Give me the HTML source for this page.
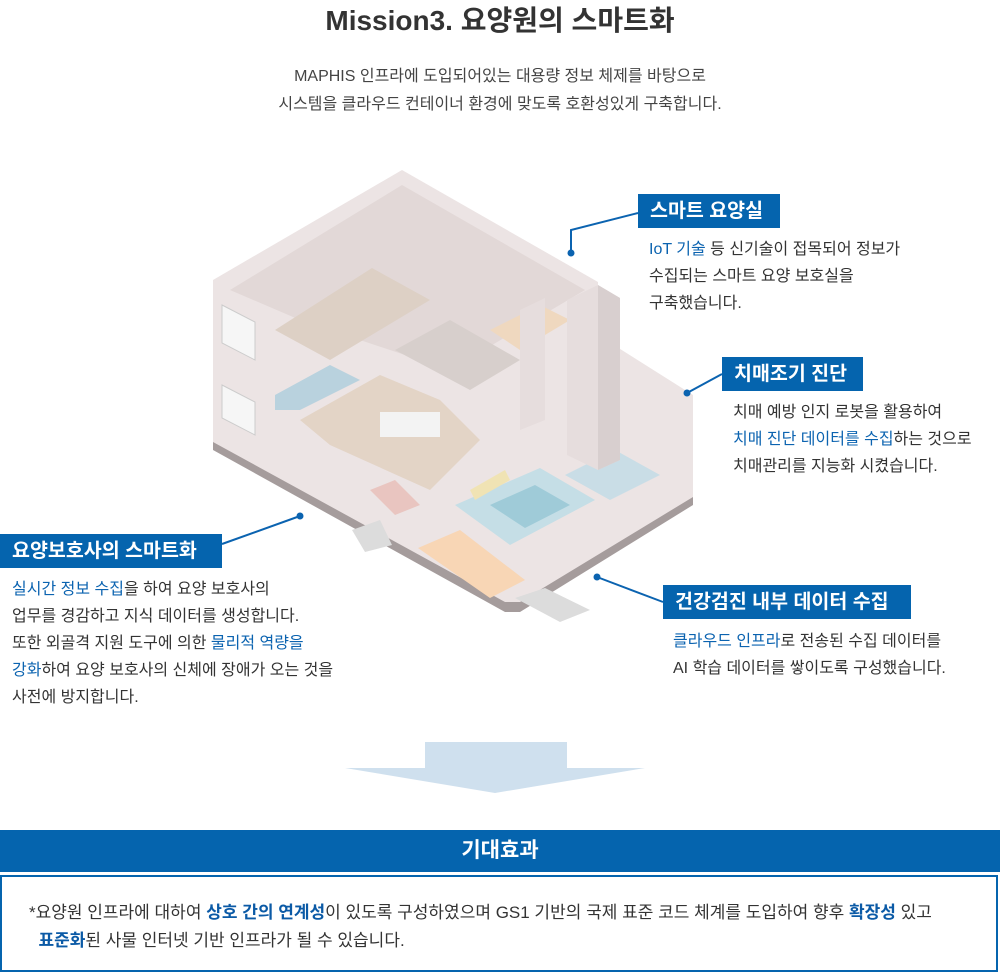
<!DOCTYPE html>
<html><head><meta charset="utf-8">
<style>
html,body{margin:0;padding:0;background:#fff}
body{width:1000px;height:976px;position:relative;overflow:hidden;font-family:"Liberation Sans","Noto Sans CJK KR",sans-serif;color:#333}
.a{position:absolute;white-space:nowrap}
.title{top:-1px;left:0;width:1000px;text-align:center;font-size:28px;font-weight:bold;color:#333}
.sub{left:0;width:1000px;text-align:center;font-size:16px;color:#444}
.lab{position:absolute;background:#0564ae;color:#fff;font-size:19.5px;font-weight:bold;height:34px;line-height:34px;padding:0 12px;box-sizing:border-box;white-space:nowrap}
.tx{position:absolute;font-size:16px;line-height:27px;color:#333;white-space:nowrap}
.b{color:#0b63b0}
.bb{color:#0b5aa6;font-weight:bold}
</style></head><body>
<div class="a title">Mission3. 요양원의 스마트화</div>
<div class="a sub" style="top:62px">MAPHIS 인프라에 도입되어있는 대용량 정보 체제를 바탕으로</div>
<div class="a sub" style="top:90px">시스템을 클라우드 컨테이너 환경에 맞도록 호환성있게 구축합니다.</div>

<svg style="position:absolute;left:0;top:0" width="1000" height="820">
<polygon points="213,440 213,450 505,612 520,612 693,505 693,495 520,600 505,600" fill="#a59c9c"/>
<polygon points="213,280 402,170 598,282 598,335 693,395 693,497 520,602 505,602 213,442" fill="#ece4e4"/>
<polygon points="230,290 402,185 585,290 450,370 300,320" fill="#e2d8d7"/>
<polygon points="275,330 372,268 430,300 330,360" fill="#ddd0c5"/>
<polygon points="275,395 330,365 360,380 300,410 275,410" fill="#b9d2de"/>
<polygon points="300,420 380,375 440,400 480,440 430,490 330,445" fill="#e3d4c6"/>
<polygon points="395,350 450,320 520,360 470,390" fill="#d7cfcc"/>
<polygon points="490,330 540,305 570,320 520,350" fill="#efd8bf"/>
<polygon points="455,505 540,468 595,500 510,545" fill="#c5dee6"/>
<polygon points="490,505 535,485 570,505 525,528" fill="#9fcbd8"/>
<polygon points="565,475 615,450 660,475 610,500" fill="#c9dde6"/>
<polygon points="418,548 460,530 525,580 490,598" fill="#f8d6b5"/>
<polygon points="515,598 545,588 590,610 560,622" fill="#dcdcdc"/>
<polygon points="352,530 380,520 392,545 365,552" fill="#dcdcdc"/>
<polygon points="567,300 598,285 620,298 620,460 598,470 567,455" fill="#e6dddd"/>
<polygon points="598,285 620,298 620,460 598,470" fill="#d8cfcf"/>
<polygon points="520,310 545,298 545,420 520,430" fill="#e6dddd"/>
<polygon points="222,305 255,322 255,360 222,343" fill="#f6f6f6" stroke="#ccc"/>
<polygon points="222,385 255,402 255,435 222,418" fill="#f6f6f6" stroke="#ccc"/>
<rect x="380" y="412" width="60" height="25" fill="#f3f3f3"/>
<polygon points="470,490 505,470 510,480 475,500" fill="#f0e3b4"/>
<polygon points="370,490 395,480 420,505 395,515" fill="#e9c5c0"/>
<g stroke="#0b63b0" stroke-width="2" fill="none">
<polyline points="571,253 571,230 638,213"/>
<line x1="687" y1="393" x2="722" y2="374"/>
<line x1="300" y1="516" x2="222" y2="544"/>
<line x1="597" y1="577" x2="663" y2="602"/>
</g>
<g fill="#0b63b0">
<circle cx="571" cy="253" r="3.5"/><circle cx="687" cy="393" r="3.5"/>
<circle cx="300" cy="516" r="3.5"/><circle cx="597" cy="577" r="3.5"/>
</g>
<polygon points="425,742 567,742 567,768 645,768 495,793 345,768 425,768" fill="#cfe0ee"/>
</svg>

<div class="lab" style="left:638px;top:194px;width:142px">스마트 요양실</div>
<div class="tx" style="left:649px;top:236px"><span class="b">IoT 기술</span> 등 신기술이 접목되어 정보가<br>수집되는 스마트 요양 보호실을<br>구축했습니다.</div>

<div class="lab" style="left:722px;top:357px;width:141px">치매조기 진단</div>
<div class="tx" style="left:733px;top:399px">치매 예방 인지 로봇을 활용하여<br><span class="b">치매 진단 데이터를 수집</span>하는 것으로<br>치매관리를 지능화 시켰습니다.</div>

<div class="lab" style="left:0;top:534px;width:222px">요양보호사의 스마트화</div>
<div class="tx" style="left:12px;top:576px"><span class="b">실시간 정보 수집</span>을 하여 요양 보호사의<br>업무를 경감하고 지식 데이터를 생성합니다.<br>또한 외골격 지원 도구에 의한 <span class="b">물리적 역량을</span><br><span class="b">강화</span>하여 요양 보호사의 신체에 장애가 오는 것을<br>사전에 방지합니다.</div>

<div class="lab" style="left:663px;top:585px;width:248px">건강검진 내부 데이터 수집</div>
<div class="tx" style="left:673px;top:628px"><span class="b">클라우드 인프라</span>로 전송된 수집 데이터를<br>AI 학습 데이터를 쌓이도록 구성했습니다.</div>

<div class="a" style="left:0;top:830px;width:1000px;height:42px;background:#0564ae;color:#fff;font-size:21px;font-weight:bold;text-align:center;line-height:42px">기대효과</div>
<div class="a" style="left:0;top:875px;width:998px;height:97px;border:2px solid #0564ae;box-sizing:border-box"></div>
<div class="tx" style="left:29px;top:899px;line-height:28px;font-size:17px">*요양원 인프라에 대하여 <span class="bb">상호 간의 연계성</span>이 있도록 구성하였으며 GS1 기반의 국제 표준 코드 체계를 도입하여 향후 <span class="bb">확장성</span> 있고<br>&nbsp;&nbsp;<span class="bb">표준화</span>된 사물 인터넷 기반 인프라가 될 수 있습니다.</div>
</body></html>
